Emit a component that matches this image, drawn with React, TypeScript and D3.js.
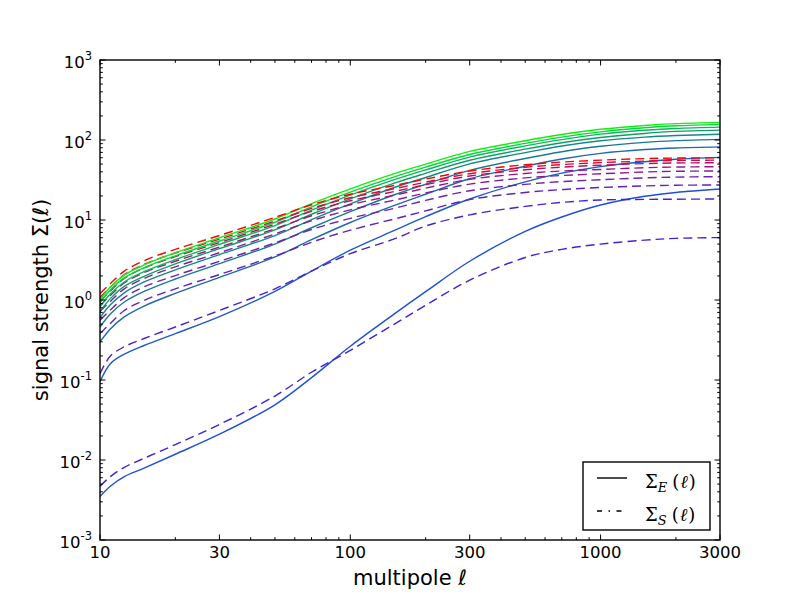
import * as d3 from 'd3'

// multipole grid shared by every curve
const ells = [10, 11, 12.5, 15, 20, 30, 50, 70, 100, 150, 200, 300, 500, 700, 1000, 1500, 2000, 3000]

// Sigma_E (solid), lowest to highest
const sigE1 = [0.0035, 0.0047, 0.0062, 0.0079, 0.0118, 0.021, 0.049, 0.107, 0.264, 0.67, 1.27, 3.05, 7.2, 10.9, 15.4, 19.8, 22.1, 24.4]
const sigE2 = [0.095, 0.16, 0.21, 0.27, 0.38, 0.62, 1.28, 2.3, 4.2, 7.4, 11, 18.3, 30, 38.5, 46.5, 53.5, 57.5, 60.6]
const sigE3 = [0.3, 0.435, 0.615, 0.84, 1.21, 1.92, 3.45, 5.68, 9.31, 15.2, 21, 32.8, 47, 57.9, 68, 76, 79.5, 82]
const sigE4 = [0.46, 0.667, 0.943, 1.28, 1.83, 2.85, 5.0, 8.0, 12.7, 20.7, 28, 41.8, 58.8, 71.4, 83.6, 93.5, 98.2, 101.9]
const sigE5 = [0.6, 0.87, 1.23, 1.68, 2.38, 3.69, 6.39, 10.1, 15.9, 25.5, 34, 50.4, 69.6, 84.2, 97.9, 108.7, 113.6, 117.9]
const sigE6 = [0.72, 1.04, 1.48, 1.98, 2.83, 4.38, 7.52, 11.8, 18.4, 28.9, 38.3, 55.8, 76.9, 92.4, 107.4, 120.8, 128, 132.8]
const sigE7 = [0.82, 1.19, 1.68, 2.26, 3.2, 4.95, 8.5, 13.3, 20.5, 31.9, 42.3, 61.2, 84.3, 101.2, 118.3, 132.2, 139.5, 145]
const sigE8 = [0.92, 1.33, 1.89, 2.53, 3.57, 5.46, 9.37, 14.6, 22.3, 34.6, 45.8, 65.9, 90.7, 108.8, 126.5, 142.1, 150.4, 157]
const sigE9 = [1.0, 1.45, 2.05, 2.75, 3.9, 6.0, 10.3, 16, 24.5, 38, 50, 72, 98, 117, 136, 152, 160, 166]

// Sigma_S (dashed), lowest to highest
const sigS1 = [0.0047, 0.0062, 0.0081, 0.0105, 0.0156, 0.0278, 0.063, 0.125, 0.235, 0.5, 0.86, 1.77, 3.4, 4.3, 5.0, 5.6, 5.9, 6.03]
const sigS2 = [0.12, 0.2, 0.26, 0.33, 0.46, 0.74, 1.38, 2.3, 3.8, 5.8, 8.4, 11.6, 14.8, 16.6, 17.8, 18.1, 18.2, 18.3]
const sigS3 = [0.38, 0.51, 0.74, 0.99, 1.38, 2.08, 3.56, 5.27, 7.46, 10.3, 13, 18, 22.1, 24, 25.5, 26.7, 27.2, 27.4]
const sigS4 = [0.56, 0.75, 1.07, 1.46, 2.02, 3.04, 5.18, 7.6, 10.5, 14, 17.6, 23.2, 27.9, 30.2, 31.9, 33.6, 34.4, 34.8]
const sigS5 = [0.72, 0.96, 1.38, 1.86, 2.6, 3.9, 6.7, 9.77, 13.4, 17.7, 21.8, 28.1, 33.6, 36, 37.8, 39.8, 40.6, 41]
const sigS6 = [0.85, 1.14, 1.63, 2.2, 3.05, 4.58, 7.78, 11.3, 15.5, 20.4, 25, 32.2, 38.2, 41, 42.8, 45, 45.9, 46.4]
const sigS7 = [0.97, 1.3, 1.86, 2.51, 3.48, 5.22, 8.86, 12.8, 17.4, 22.7, 27.6, 35.5, 42.4, 45.8, 48.4, 50.7, 51.6, 52]
const sigS8 = [1.08, 1.44, 2.07, 2.79, 3.87, 5.76, 9.72, 13.95, 19, 24.6, 29.7, 37.9, 45.6, 49.3, 52.1, 54.4, 55.5, 56]
const sigS9 = [1.2, 1.6, 2.3, 3.1, 4.3, 6.4, 10.8, 15.5, 21, 27, 32.5, 41, 49, 53, 56, 58.5, 59.5, 60]

const xMajor = [10, 30, 100, 300, 1000, 3000]
const yExponents = [-3, -2, -1, 0, 1, 2, 3]

const solidSeries = [sigE1, sigE2, sigE3, sigE4, sigE5, sigE6, sigE7, sigE8, sigE9]
const dashedSeries = [sigS1, sigS2, sigS3, sigS4, sigS5, sigS6, sigS7, sigS8, sigS9]

const solidColors = ['#1f4fd6', '#1f5ac6', '#1f68aa', '#1a7896', '#158882', '#109c6c', '#0ab856', '#05d83a', '#10f010']
const dashedColors = ['#3c22e0', '#4a20d2', '#6220bc', '#7220aa', '#841e98', '#981882', '#b41264', '#d40a40', '#ff0000']

const L = 100, R = 720, T = 60, B = 540
const sans = 'DejaVu Sans, sans-serif'
const serif = 'DejaVu Serif, serif'

export default function App() {
  const x = d3.scaleLog().domain([10, 3000]).range([L, R])
  const y = d3.scaleLog().domain([1e-3, 1e3]).range([B, T])

  const line = d3.line<number>()
    .x((_, i) => x(ells[i]))
    .y(d => y(d))
    .curve(d3.curveCatmullRom.alpha(0.5))

  const xMinor: number[] = []
  for (const dec of [10, 100, 1000]) {
    for (let k = 1; k <= 9; k++) {
      const v = k * dec
      if (v >= 10 && v <= 3000 && !xMajor.includes(v)) xMinor.push(v)
    }
  }
  const yMinor: number[] = []
  for (let e = -3; e < 3; e++) {
    for (let k = 2; k <= 9; k++) yMinor.push(k * Math.pow(10, e))
  }

  const majLen = 5.5, minLen = 2.8

  return (
    <svg width={800} height={600} style={{ position: 'absolute', left: 0, top: 0, background: '#fff' }}>
      <rect x={0} y={0} width={800} height={600} fill="#fff" />
      <defs>
        <clipPath id="plot">
          <rect x={L} y={T} width={R - L} height={B - T} />
        </clipPath>
      </defs>

      <g clipPath="url(#plot)" fill="none" strokeWidth={1.4}>
        {solidSeries.map((s, i) => (
          <g key={i}>
            <path d={line(s)!} stroke={solidColors[i]} />
            <path d={line(dashedSeries[i])!} stroke={dashedColors[i]} strokeDasharray="9,5" />
          </g>
        ))}
      </g>

      {/* ticks on all four sides, pointing inwards */}
      <g stroke="#000" strokeWidth={1}>
        {xMajor.map(v => (
          <g key={'xM' + v}>
            <line x1={x(v)} x2={x(v)} y1={B} y2={B - majLen} />
            <line x1={x(v)} x2={x(v)} y1={T} y2={T + majLen} />
          </g>
        ))}
        {xMinor.map(v => (
          <g key={'xm' + v}>
            <line x1={x(v)} x2={x(v)} y1={B} y2={B - minLen} />
            <line x1={x(v)} x2={x(v)} y1={T} y2={T + minLen} />
          </g>
        ))}
        {yExponents.map(e => (
          <g key={'yM' + e}>
            <line x1={L} x2={L + majLen} y1={y(Math.pow(10, e))} y2={y(Math.pow(10, e))} />
            <line x1={R} x2={R - majLen} y1={y(Math.pow(10, e))} y2={y(Math.pow(10, e))} />
          </g>
        ))}
        {yMinor.map(v => (
          <g key={'ym' + v}>
            <line x1={L} x2={L + minLen} y1={y(v)} y2={y(v)} />
            <line x1={R} x2={R - minLen} y1={y(v)} y2={y(v)} />
          </g>
        ))}
      </g>

      <rect x={L} y={T} width={R - L} height={B - T} fill="none" stroke="#000" strokeWidth={1.4} />

      <g fontFamily={sans} fontSize={16.5} fill="#000">
        {xMajor.map(v => (
          <text key={'xl' + v} x={x(v)} y={558} textAnchor="middle">{v}</text>
        ))}
        {yExponents.map(e => (
          <text key={'yl' + e} x={92} y={y(Math.pow(10, e)) + 8} textAnchor="end">
            10<tspan fontSize={11.5} dy={-8}>{e}</tspan>
          </text>
        ))}
      </g>

      <text x={(L + R) / 2} y={585} textAnchor="middle" fontFamily={sans} fontSize={21}>multipole ℓ</text>
      <text transform={`translate(48,${(T + B) / 2}) rotate(-90)`} textAnchor="middle" fontFamily={sans} fontSize={21}>
        signal strength Σ(ℓ)
      </text>

      {/* legend */}
      <g>
        <rect x={583} y={462} width={127} height={68} fill="#fff" stroke="#000" strokeWidth={1.4} />
        <line x1={597} x2={627} y1={478} y2={478} stroke="#000" strokeWidth={1.4} />
        <line x1={597} x2={627} y1={511} y2={511} stroke="#000" strokeWidth={1.4} strokeDasharray="5,6.5,1.5,6.5" />
        <text x={645} y={488} fontFamily={serif} fontSize={18}>
          Σ<tspan fontSize={13} fontStyle="italic" dy={4}>E</tspan><tspan dx={5} dy={-4}>(</tspan><tspan fontStyle="italic" dx={1}>ℓ</tspan><tspan dx={1}>)</tspan>
        </text>
        <text x={645} y={521} fontFamily={serif} fontSize={18}>
          Σ<tspan fontSize={13} fontStyle="italic" dy={4}>S</tspan><tspan dx={5} dy={-4}>(</tspan><tspan fontStyle="italic" dx={1}>ℓ</tspan><tspan dx={1}>)</tspan>
        </text>
      </g>
    </svg>
  )
}
